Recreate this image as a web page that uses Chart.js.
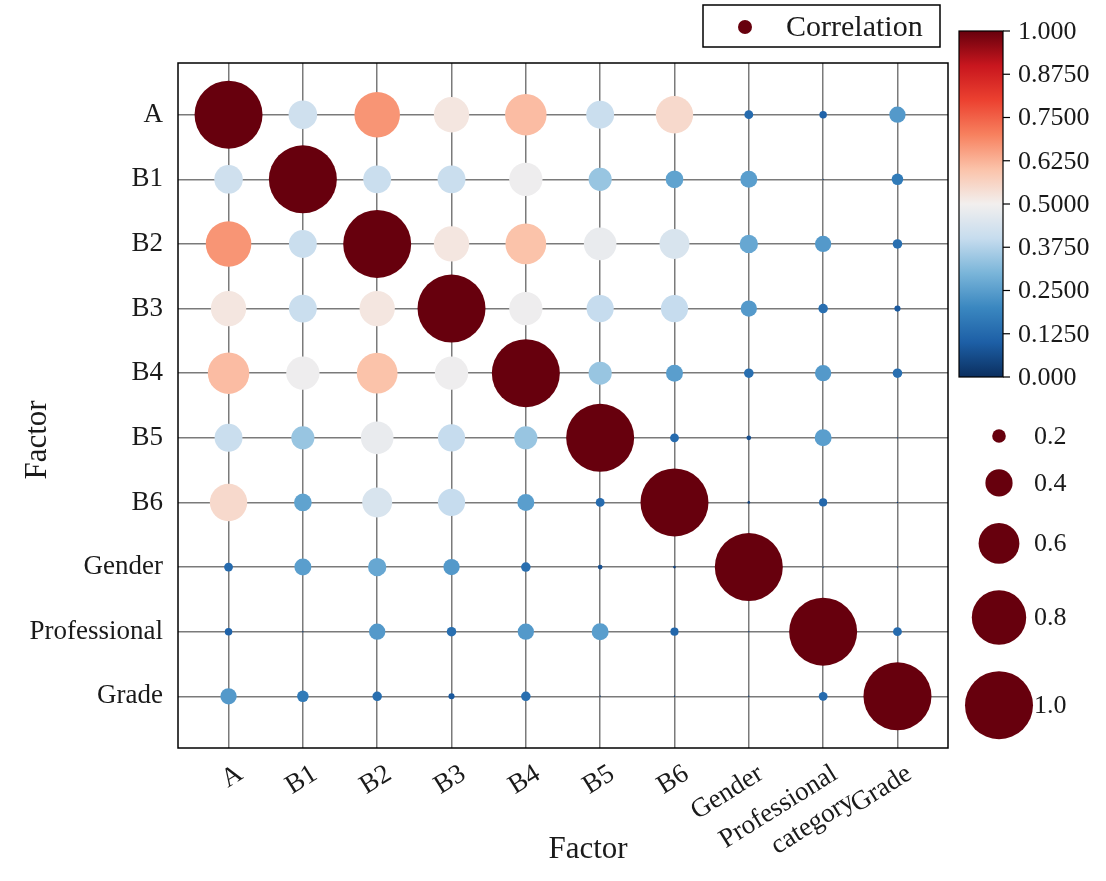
<!DOCTYPE html>
<html>
<head>
<meta charset="utf-8">
<script src="https://cdn.jsdelivr.net/npm/chart.js@4.4.1/dist/chart.umd.min.js"></script>
<style>
  html, body { margin: 0; padding: 0; background: #fff; }
</style>
</head>
<body>
<canvas id="corr" width="1106" height="881"></canvas>
<script>
// labels
var xLabels = ['A', 'B1', 'B2', 'B3', 'B4', 'B5', 'B6', 'Gender', ['Professional', 'category'], 'Grade']
var yLabels = ['A', 'B1', 'B2', 'B3', 'B4', 'B5', 'B6', 'Gender', 'Professional', 'Grade']

// correlation matrix, one row per factor
var rowA            = [1.00, 0.42, 0.67, 0.52, 0.61, 0.41, 0.55, 0.13, 0.11, 0.24]
var rowB1           = [0.42, 1.00, 0.41, 0.41, 0.49, 0.34, 0.26, 0.25, 0.02, 0.17]
var rowB2           = [0.67, 0.41, 1.00, 0.52, 0.60, 0.48, 0.44, 0.27, 0.24, 0.14]
var rowB3           = [0.52, 0.41, 0.52, 1.00, 0.49, 0.40, 0.40, 0.24, 0.14, 0.09]
var rowB4           = [0.61, 0.49, 0.60, 0.49, 1.00, 0.34, 0.25, 0.14, 0.24, 0.14]
var rowB5           = [0.41, 0.34, 0.48, 0.40, 0.34, 1.00, 0.13, 0.07, 0.25, 0.02]
var rowB6           = [0.55, 0.26, 0.44, 0.40, 0.25, 0.13, 1.00, 0.04, 0.12, 0.02]
var rowGender       = [0.13, 0.25, 0.27, 0.24, 0.14, 0.07, 0.04, 1.00, 0.02, 0.02]
var rowProfessional = [0.11, 0.02, 0.24, 0.14, 0.24, 0.25, 0.12, 0.02, 1.00, 0.13]
var rowGrade        = [0.24, 0.17, 0.14, 0.09, 0.14, 0.02, 0.02, 0.02, 0.13, 1.00]
var rows = [rowA, rowB1, rowB2, rowB3, rowB4, rowB5, rowB6, rowGender, rowProfessional, rowGrade]

// colorbar and size legend
var cbTicks = [1.0, 0.875, 0.75, 0.625, 0.5, 0.375, 0.25, 0.125, 0.0]
var cbTickLabels = ['1.000', '0.8750', '0.7500', '0.6250', '0.5000', '0.3750', '0.2500', '0.1250', '0.000']
var sizeLevels = [0.2, 0.4, 0.6, 0.8, 1.0]
var sizeLabels = ['0.2', '0.4', '0.6', '0.8', '1.0']

var R_MAX = 34
var FONT = 'Liberation Serif, Times New Roman, serif'
var TEXT = '#1a1a1a'

// red-blue diverging map, blue at 0, red at 1
var stops = ['#0b2f5f', '#1d5fa6', '#3a87c0', '#7ab5d9', '#c6dcee', '#f2efee',
             '#fbc3aa', '#f7815f', '#ec4130', '#c8161e', '#67000d']
function hex(h) {
  return [parseInt(h.slice(1, 3), 16), parseInt(h.slice(3, 5), 16), parseInt(h.slice(5, 7), 16)]
}
function cmap(v) {
  v = Math.min(1, Math.max(0, v))
  var p = v * (stops.length - 1)
  var i = Math.min(Math.floor(p), stops.length - 2)
  var t = p - i
  var a = hex(stops[i]), b = hex(stops[i + 1])
  var c = a.map(function(x, k) { return Math.round(x + (b[k] - x) * t) })
  return 'rgb(' + c.join(',') + ')'
}

var points = []
rows.forEach(function(row, yi) {
  row.forEach(function(v, xi) {
    points.push({ x: xi, y: yi, r: v * R_MAX, v: v })
  })
})

var overlay = {
  id: 'overlay',
  afterDraw: function(chart) {
    var c = chart.ctx, a = chart.chartArea
    c.save()
    // plot frame
    c.strokeStyle = '#000'
    c.lineWidth = 1.5
    c.strokeRect(a.left, a.top, a.right - a.left, a.bottom - a.top)

    // axis titles
    c.fillStyle = TEXT
    c.font = '31px ' + FONT
    c.textAlign = 'center'
    c.textBaseline = 'middle'
    c.fillText('Factor', 588, 850)
    c.save()
    c.translate(38, 440)
    c.rotate(-Math.PI / 2)
    c.fillText('Factor', 0, 0)
    c.restore()

    // legend box
    c.fillStyle = '#fff'
    c.fillRect(703, 5, 237, 42)
    c.strokeStyle = '#000'
    c.lineWidth = 1.5
    c.strokeRect(703, 5, 237, 42)
    c.fillStyle = cmap(1)
    c.beginPath()
    c.arc(745, 27, 7, 0, Math.PI * 2)
    c.fill()
    c.fillStyle = TEXT
    c.font = '30px ' + FONT
    c.textAlign = 'left'
    c.fillText('Correlation', 786, 28)

    // colorbar
    var cx = 959, cy = 31, cw = 44, ch = 346
    var g = c.createLinearGradient(0, cy + ch, 0, cy)
    stops.forEach(function(s, i) { g.addColorStop(i / (stops.length - 1), s) })
    c.fillStyle = g
    c.fillRect(cx, cy, cw, ch)
    c.strokeStyle = '#000'
    c.lineWidth = 1.2
    c.strokeRect(cx, cy, cw, ch)
    c.font = '26px ' + FONT
    c.fillStyle = TEXT
    c.textAlign = 'left'
    cbTicks.forEach(function(v, i) {
      var ty = cy + ch - v * ch
      c.beginPath()
      c.moveTo(cx + cw, ty)
      c.lineTo(cx + cw + 7, ty)
      c.stroke()
      c.fillText(cbTickLabels[i], cx + cw + 15, ty + 1)
    })

    // size legend
    var ly = 436, prev = 0
    sizeLevels.forEach(function(v, i) {
      var r = v * R_MAX
      if (i > 0) ly += prev + r + 26.5
      prev = r
      c.fillStyle = cmap(1)
      c.beginPath()
      c.arc(999, ly, r, 0, Math.PI * 2)
      c.fill()
      c.fillStyle = TEXT
      c.fillText(sizeLabels[i], 1034, ly + 1)
    })
    c.restore()
  }
}

Chart.defaults.font.family = FONT
Chart.defaults.color = TEXT

var ctx = document.getElementById('corr').getContext('2d')
var chart = new Chart(ctx, {
  type: 'bubble',
  data: {
    datasets: [{
      label: 'Correlation',
      data: points,
      backgroundColor: function(c) { return c.raw ? cmap(c.raw.v) : '#000' },
      borderWidth: 0
    }]
  },
  options: {
    responsive: false,
    animation: false,
    events: [],
    layout: { padding: { top: 63, right: 158, bottom: 0, left: 0 } },
    plugins: { legend: { display: false }, tooltip: { enabled: false } },
    scales: {
      x: {
        type: 'linear',
        bounds: 'data',
        min: -0.68,
        max: 9.68,
        afterBuildTicks: function(s) { s.ticks = xLabels.map(function(_, i) { return { value: i } }) },
        afterFit: function(s) { s.height = 133 },
        grid: { color: '#7a7a7a', lineWidth: 1.5, drawTicks: false },
        border: { display: false },
        ticks: {
          font: { size: 27 },
          color: TEXT,
          minRotation: 32,
          maxRotation: 32,
          padding: 10,
          labelOffset: 12,
          autoSkip: false,
          callback: function(v) { return xLabels[v] }
        }
      },
      y: {
        type: 'linear',
        bounds: 'data',
        reverse: true,
        min: -0.8,
        max: 9.8,
        afterBuildTicks: function(s) { s.ticks = yLabels.map(function(_, i) { return { value: i } }) },
        afterFit: function(s) { s.width = 178 },
        grid: { color: '#7a7a7a', lineWidth: 1.5, drawTicks: false },
        border: { display: false },
        ticks: {
          font: { size: 27 },
          color: TEXT,
          padding: 15,
          autoSkip: false,
          callback: function(v) { return yLabels[v] }
        }
      }
    }
  },
  plugins: [overlay]
})
</script>
</body>
</html>
